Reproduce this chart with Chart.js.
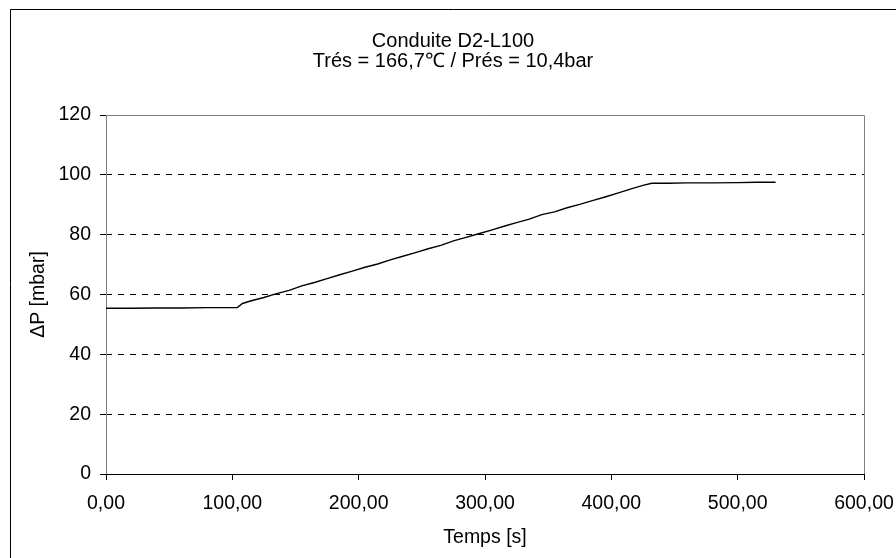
<!DOCTYPE html>
<html lang="fr">
<head>
  <meta charset="UTF-8">
  <title>Conduite D2-L100</title>
  <script src="https://cdn.jsdelivr.net/npm/chart.js"></script>
  <style>
    html, body {
      margin: 0;
      padding: 0;
      background: #fff;
    }
    .cadre {
      width: 896px;
      height: 558px;
    }
  </style>
</head>
<body>
<div class="cadre">
  <canvas id="grafico" width="896" height="558"></canvas>
</div>

<script>
  // temps [s]
  const temps = [0, 20, 40, 60, 80, 100, 104, 108, 115, 125, 135, 145, 155, 165, 175, 185,
    195, 205, 215, 225, 235, 245, 255, 265, 275, 285, 295, 305, 315, 325, 335, 345,
    355, 365, 375, 385, 395, 405, 415, 425, 432, 445, 460, 480, 500, 515, 530];
  // ΔP [mbar]
  const deltaP = [55.4, 55.4, 55.5, 55.5, 55.6, 55.6, 55.6, 57.0, 57.9, 59.0, 60.3, 61.4, 62.9, 64.0, 65.3, 66.6,
    67.8, 69.1, 70.2, 71.6, 72.8, 74.0, 75.3, 76.4, 77.9, 79.1, 80.3, 81.5, 82.8, 84.0, 85.2, 86.7,
    87.6, 89.0, 90.1, 91.4, 92.6, 93.9, 95.2, 96.5, 97.2, 97.2, 97.3, 97.3, 97.4, 97.5, 97.5];

  const titre = ['Conduite D2-L100', 'Trés = 166,7℃ / Prés = 10,4bar'];
  const titreX = 'Temps [s]';
  const titreY = 'ΔP [mbar]';

  const police = "Arial, 'Liberation Sans', sans-serif";
  const taille = 19.5;

  // cadre extérieur et bord du tracé (style Excel)
  const cadrePlugin = {
    id: 'cadre',
    beforeDatasetsDraw(chart) {
      const ctx = chart.ctx;
      const a = chart.chartArea;
      ctx.save();
      ctx.lineWidth = 1;
      ctx.strokeStyle = '#808080';
      ctx.beginPath();
      ctx.moveTo(Math.round(a.left) + 0.5, Math.round(a.bottom) + 0.5);
      ctx.lineTo(Math.round(a.left) + 0.5, Math.round(a.top) + 0.5);
      ctx.lineTo(Math.round(a.right) + 0.5, Math.round(a.top) + 0.5);
      ctx.lineTo(Math.round(a.right) + 0.5, Math.round(a.bottom) + 0.5);
      ctx.stroke();
      ctx.strokeStyle = '#000';
      ctx.beginPath();
      ctx.moveTo(Math.round(a.left), Math.round(a.bottom) + 0.5);
      ctx.lineTo(Math.round(a.right) + 1, Math.round(a.bottom) + 0.5);
      ctx.stroke();
      ctx.restore();
    },
    afterDraw(chart) {
      const ctx = chart.ctx;
      ctx.save();
      ctx.lineWidth = 1;
      ctx.strokeStyle = '#000';
      ctx.beginPath();
      ctx.moveTo(10.5, chart.height);
      ctx.lineTo(10.5, 9.5);
      ctx.lineTo(chart.width, 9.5);
      ctx.stroke();
      ctx.restore();
    }
  };

  new Chart(document.getElementById('grafico'), {
    type: 'line',
    data: {
      datasets: [{
        label: titreY,
        data: temps.map((t, i) => ({ x: t, y: deltaP[i] })),
        borderColor: '#000',
        borderWidth: 1.4,
        pointRadius: 0,
        tension: 0,
        fill: false
      }]
    },
    options: {
      responsive: false,
      animation: false,
      devicePixelRatio: 1,
      layout: { padding: { left: 10, right: 0, top: 0, bottom: 0 } },
      plugins: {
        legend: { display: false },
        tooltip: { enabled: false },
        title: {
          display: true,
          text: titre,
          color: '#000',
          font: { family: police, size: 20, weight: 'normal', lineHeight: 1.0 },
          padding: { top: 31, bottom: 44 }
        }
      },
      scales: {
        x: {
          type: 'linear',
          min: 0,
          max: 600,
          afterFit(s) {
            s.height = 84;
            s.paddingLeft = 0;
            s.paddingRight = 32;
          },
          ticks: {
            stepSize: 100,
            color: '#000',
            padding: 12,
            maxRotation: 0,
            font: { family: police, size: taille },
            callback: v => v.toFixed(2).replace('.', ',')
          },
          grid: {
            drawOnChartArea: false,
            drawTicks: true,
            tickLength: 6,
            tickColor: '#000'
          },
          border: { display: false },
          title: {
            display: true,
            text: titreX,
            color: '#000',
            font: { family: police, size: taille },
            padding: { top: 0, bottom: 9 }
          }
        },
        y: {
          min: 0,
          max: 120,
          afterFit(s) { s.width = 96; },
          ticks: {
            stepSize: 20,
            color: '#000',
            padding: 9,
            font: { family: police, size: taille }
          },
          grid: {
            color: c => (c.tick && (c.tick.value === 0 || c.tick.value === 120)) ? 'rgba(0,0,0,0)' : '#000',
            tickColor: '#000',
            tickLength: 6,
            lineWidth: 1
          },
          border: { display: false, dash: [6, 6] },
          title: {
            display: true,
            text: titreY,
            color: '#000',
            font: { family: police, size: taille },
            padding: { top: 17, bottom: 0 }
          }
        }
      }
    },
    plugins: [cadrePlugin]
  });
</script>
</body>
</html>
